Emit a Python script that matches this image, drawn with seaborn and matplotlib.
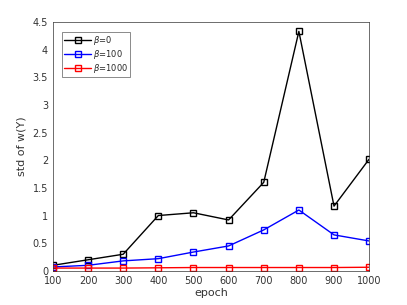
import numpy as np
import pandas as pd
import matplotlib.pyplot as plt
import seaborn as sns

epochs = [100, 200, 300, 400, 500, 600, 700, 800, 900, 1000]
std_beta0 = [0.10, 0.20, 0.30, 1.00, 1.05, 0.92, 1.60, 4.33, 1.17, 2.02]
std_beta100 = [0.07, 0.10, 0.18, 0.22, 0.34, 0.45, 0.74, 1.10, 0.65, 0.54]
std_beta1000 = [0.05, 0.05, 0.05, 0.055, 0.06, 0.06, 0.06, 0.06, 0.06, 0.065]
labels = [r"$\beta$=0", r"$\beta$=100", r"$\beta$=1000"]
colors = ["black", "#0000ff", "#ff0000"]

df = pd.DataFrame({
    "epoch": epochs * 3,
    "std": std_beta0 + std_beta100 + std_beta1000,
    "beta": [labels[0]] * 10 + [labels[1]] * 10 + [labels[2]] * 10,
})

sns.set_style("white")
plt.rcParams["font.family"] = ["DejaVu Sans"]
plt.rcParams["mathtext.fontset"] = "dejavusans"

fig = plt.figure(figsize=(4.07, 3.05), dpi=100)
ax = fig.add_axes([0.130, 0.112, 0.777, 0.816])

sns.lineplot(data=df, x="epoch", y="std", hue="beta", palette=colors,
             marker="s", markersize=4, markerfacecolor="none", markeredgewidth=1,
             linewidth=1, ax=ax)
for line, c in zip(ax.get_lines(), colors):
    line.set_markeredgecolor(c)

ax.set_xlim(100, 1000)
ax.set_ylim(0, 4.5)
ax.set_xticks(epochs)
ax.set_yticks(np.arange(0, 4.6, 0.5))
ax.set_yticklabels(["0", "0.5", "1", "1.5", "2", "2.5", "3", "3.5", "4", "4.5"])
ax.tick_params(direction="in", length=3, labelsize=7, colors="#333333", width=0.5)
for s in ax.spines.values():
    s.set_color("#333333")
    s.set_linewidth(0.5)
ax.set_xlabel("epoch", fontsize=8, labelpad=2, color="#333333")
ax.set_ylabel("std of w(Y)", fontsize=8, labelpad=4, color="#333333")

leg = ax.legend(loc="upper left", fontsize=6, frameon=True, fancybox=False,
                edgecolor="#333333", handlelength=3.2, handletextpad=0.2,
                borderpad=0.25, labelspacing=0.1, borderaxespad=0,
                bbox_to_anchor=(0.03, 0.96))
leg.get_frame().set_linewidth(0.5)
for h, c in zip(leg.get_lines(), colors):
    h.set_markerfacecolor("none")
    h.set_markeredgecolor(c)

fig.savefig("out.png", dpi=100)
